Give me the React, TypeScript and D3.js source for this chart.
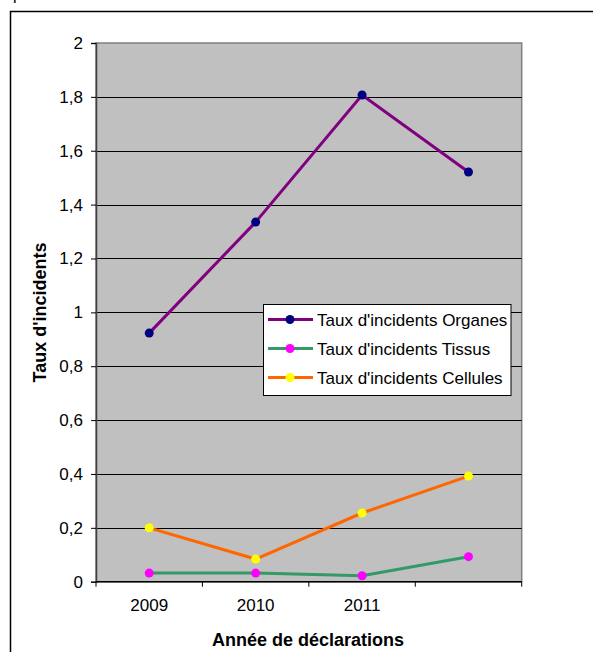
import React, { useEffect, useRef } from "react";
import * as d3 from "d3";

const categories = ["2009", "2010", "2011", ""];
const organes = [0.923, 1.335, 1.807, 1.521];
const tissus = [0.032, 0.032, 0.022, 0.093];
const cellules = [0.2, 0.084, 0.255, 0.392];
const yTicks = [0, 0.2, 0.4, 0.6, 0.8, 1, 1.2, 1.4, 1.6, 1.8, 2];

const seriesDefs = [
  { name: "Taux d'incidents Organes", values: organes, line: "#800080", marker: "#000080" },
  { name: "Taux d'incidents Tissus", values: tissus, line: "#339966", marker: "#FF00FF" },
  { name: "Taux d'incidents Cellules", values: cellules, line: "#FF6600", marker: "#FFFF00" },
];

const W = 593;
const H = 652;
const plot = { left: 96, right: 521.7, top: 43, bottom: 581.7 };
const FONT = "Arial, 'Liberation Sans', sans-serif";

export default function App() {
  const ref = useRef<SVGSVGElement | null>(null);

  useEffect(() => {
    const svg = d3.select(ref.current);
    svg.selectAll("*").remove();

    // outer frame
    svg.append("rect")
      .attr("x", 10.5).attr("y", 11.5).attr("width", 700).attr("height", 700)
      .attr("fill", "white").attr("stroke", "black").attr("stroke-width", 1.5);

    // heading line above the frame, mostly outside the view
    svg.append("text").attr("x", 13).attr("y", 0)
      .attr("font-family", FONT).attr("font-size", 16).text("p");

    const x = d3.scaleBand().domain(categories.map((c, i) => String(i)))
      .range([plot.left, plot.right]).padding(0);
    const y = d3.scaleLinear().domain([0, 2]).range([plot.bottom, plot.top]);
    const cx = (i: number) => (x(String(i)) as number) + x.bandwidth() / 2;

    // plot background
    svg.append("rect")
      .attr("x", plot.left).attr("y", plot.top)
      .attr("width", plot.right - plot.left).attr("height", plot.bottom - plot.top)
      .attr("fill", "#C0C0C0").attr("stroke", "#808080").attr("stroke-width", 1.5);

    // grid
    svg.append("g").selectAll("line")
      .data(yTicks.filter((t) => t > 0 && t < 2))
      .join("line")
      .attr("x1", plot.left).attr("x2", plot.right)
      .attr("y1", (d) => Math.round(y(d)) + 0.5).attr("y2", (d) => Math.round(y(d)) + 0.5)
      .attr("stroke", "#000").attr("stroke-width", 1);

    // y axis
    const yAxis = d3.axisLeft(y).tickValues(yTicks).tickSize(5).tickPadding(8)
      .tickFormat((d) => String(d).replace(".", ","));
    const ga = svg.append("g").attr("transform", `translate(${plot.left},0)`).call(yAxis);
    ga.select(".domain").attr("stroke", "#404040").attr("stroke-width", 1.5);
    ga.selectAll(".tick line").attr("stroke", "#000");
    ga.selectAll("text").attr("font-family", FONT).attr("font-size", 17).attr("fill", "#000");

    // x axis
    const xAxis = d3.axisBottom(x).tickFormat((d) => categories[+d]).tickSize(0).tickPadding(17);
    const gx = svg.append("g").attr("transform", `translate(0,${plot.bottom})`).call(xAxis);
    gx.select(".domain").remove();
    gx.selectAll("text").attr("font-family", FONT).attr("font-size", 17).attr("fill", "#000");
    svg.append("line").attr("x1", plot.left).attr("x2", plot.right)
      .attr("y1", plot.bottom).attr("y2", plot.bottom)
      .attr("stroke", "#000").attr("stroke-width", 1.5);
    const bounds = categories.map((_, i) => x(String(i)) as number).concat([plot.right]);
    svg.append("g").selectAll("line").data(bounds).join("line")
      .attr("x1", (d) => d).attr("x2", (d) => d)
      .attr("y1", plot.bottom).attr("y2", plot.bottom + 5)
      .attr("stroke", "#000").attr("stroke-width", 1);

    // series
    const line = d3.line<number>().x((_, i) => cx(i)).y((d) => y(d));
    seriesDefs.forEach((s) => {
      svg.append("path").attr("d", line(s.values) as string)
        .attr("fill", "none").attr("stroke", s.line).attr("stroke-width", 3);
      svg.append("g").selectAll("circle").data(s.values).join("circle")
        .attr("cx", (_, i) => cx(i)).attr("cy", (d) => y(d)).attr("r", 4.5)
        .attr("fill", s.marker);
    });

    // axis titles
    svg.append("text").attr("x", 308).attr("y", 646).attr("text-anchor", "middle")
      .attr("font-family", FONT).attr("font-size", 18).attr("font-weight", "bold")
      .text("Année de déclarations");
    svg.append("text").attr("transform", "translate(45.5,312.5) rotate(-90)")
      .attr("text-anchor", "middle")
      .attr("font-family", FONT).attr("font-size", 18).attr("font-weight", "bold")
      .text("Taux d'incidents");

    // legend
    const lg = svg.append("g");
    lg.append("rect").attr("x", 263.5).attr("y", 304.5).attr("width", 247.5).attr("height", 91)
      .attr("fill", "white").attr("stroke", "#000").attr("stroke-width", 1);
    seriesDefs.forEach((s, i) => {
      const yy = 319.5 + i * 29;
      lg.append("line").attr("x1", 268).attr("x2", 313).attr("y1", yy).attr("y2", yy)
        .attr("stroke", s.line).attr("stroke-width", 3);
      lg.append("circle").attr("cx", 290).attr("cy", yy).attr("r", 4.5).attr("fill", s.marker);
      lg.append("text").attr("x", 317).attr("y", yy + 6)
        .attr("font-family", FONT).attr("font-size", 17).attr("fill", "#000")
        .text(s.name);
    });
  }, []);

  return (
    <svg ref={ref} width={W} height={H}
      style={{ position: "absolute", left: 0, top: 0, display: "block", background: "white" }} />
  );
}
